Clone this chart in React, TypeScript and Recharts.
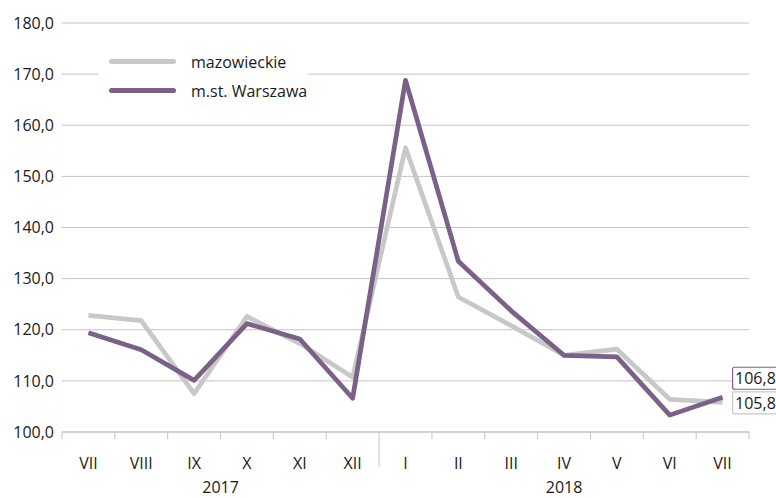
import { LineChart, Line, XAxis, YAxis, CartesianGrid, Legend, LabelList } from "recharts";

const months = ["VII", "VIII", "IX", "X", "XI", "XII", "I", "II", "III", "IV", "V", "VI", "VII"];
const yearGroups = [
  { label: "2017", first: 0, last: 5 },
  { label: "2018", first: 6, last: 12 },
];
const mazowieckie = [122.8, 121.8, 107.5, 122.6, 117.3, 110.7, 155.6, 126.4, 120.8, 115.0, 116.2, 106.4, 105.8];
const warszawa = [119.4, 116.1, 110.1, 121.2, 118.2, 106.6, 168.8, 133.4, 123.7, 115.0, 114.7, 103.3, 106.8];
const yTicks = [100, 110, 120, 130, 140, 150, 160, 170, 180];
const seriesOrder = ["mazowieckie", "m.st. Warszawa"];

// unique key per point, the duplicate "VII" would collapse in a point scale
const data = months.map((m, i) => ({ key: `${m}-${i}`, month: m, maz: mazowieckie[i], wwa: warszawa[i] }));

const W = 776;
const H = 498;
const MARGIN = { top: 23, right: 27, left: 0, bottom: 0 };
const Y_WIDTH = 62;
const BAND = (W - MARGIN.left - MARGIN.right - Y_WIDTH) / months.length;

const GRAY = "#c8c8c8";
const PURPLE = "#7b6088";
const GRID = "#c3c3c9";
const TEXT = "#1a1a1a";
const FONT = "'Open Sans', sans-serif";
const FS = 16;

const fmt = (v: number) => v.toFixed(1).replace(".", ",");

function MonthTick(props: any) {
  const { x, y, index } = props;
  const left = x - BAND / 2;
  const isSplit = yearGroups.some((g) => g.first === index && index > 0);
  const group = yearGroups.find((g) => g.first === index);
  return (
    <g>
      <line x1={left} x2={left} y1={y} y2={y + (isSplit ? 35 : 7)} stroke={GRID} />
      {index === months.length - 1 && (
        <line x1={x + BAND / 2} x2={x + BAND / 2} y1={y} y2={y + 7} stroke={GRID} />
      )}
      <text x={x} y={y + 37} textAnchor="middle" fontSize={FS} fill={TEXT} fontFamily={FONT}>
        {months[index]}
      </text>
      {group && (
        <text
          x={x + ((group.last - group.first) * BAND) / 2}
          y={y + 61}
          textAnchor="middle"
          fontSize={FS}
          fill={TEXT}
          fontFamily={FONT}
        >
          {group.label}
        </text>
      )}
    </g>
  );
}

function endLabel(color: string, dy: number) {
  return (props: any) => {
    const { x, y, value, index } = props;
    if (index !== months.length - 1) return null;
    return (
      <g>
        <rect x={x + 10} y={y + dy - 11} width={52} height={22} rx={2} fill="#fff" stroke={color} strokeWidth={1.2} />
        <text x={x + 12.5} y={y + dy + 6} fontSize={FS} fill={TEXT} fontFamily={FONT}>
          {fmt(value)}
        </text>
      </g>
    );
  };
}

function LegendBox(props: any) {
  const items = [...(props.payload || [])].sort(
    (a: any, b: any) => seriesOrder.indexOf(a.value) - seriesOrder.indexOf(b.value)
  );
  return (
    <div style={{ background: "#fff", width: 210, paddingTop: 1 }}>
      {items.map((p: any) => (
        <div key={p.value} style={{ display: "flex", alignItems: "center", height: 29, whiteSpace: "nowrap" }}>
          <div style={{ flex: "none", width: 67, height: 5, borderRadius: 3, background: p.color, marginLeft: 11 }} />
          <span style={{ marginLeft: 15, fontSize: FS, color: TEXT, fontFamily: FONT }}>{p.value}</span>
        </div>
      ))}
    </div>
  );
}

export default function App() {
  return (
    <div style={{ position: "absolute", left: 0, top: 0, width: W, height: H, background: "#fff", overflow: "hidden" }}>
      <LineChart width={W} height={H} data={data} margin={MARGIN}>
        <CartesianGrid horizontal vertical={false} stroke={GRID} />
        <XAxis
          dataKey="key"
          type="category"
          scale="point"
          padding={{ left: BAND / 2, right: BAND / 2 }}
          interval={0}
          height={66}
          tickLine={false}
          tickSize={0}
          tickMargin={0}
          axisLine={{ stroke: GRID }}
          tick={<MonthTick />}
        />
        <YAxis
          width={Y_WIDTH}
          type="number"
          domain={[100, 180]}
          ticks={yTicks}
          axisLine={false}
          tickLine={false}
          tickFormatter={fmt}
          tick={{ fontSize: FS, fill: TEXT, fontFamily: FONT }}
        />
        <Legend
          layout="vertical"
          align="center"
          verticalAlign="middle"
          content={<LegendBox />}
          wrapperStyle={{ position: "absolute", left: 98, top: 46, width: 210 }}
        />
        <Line
          dataKey="maz"
          name="mazowieckie"
          stroke={GRAY}
          strokeWidth={4.7}
          dot={false}
          strokeLinejoin="round"
          isAnimationActive={false}
        >
          <LabelList dataKey="maz" content={endLabel(GRAY, 0.5)} />
        </Line>
        <Line
          dataKey="wwa"
          name="m.st. Warszawa"
          stroke={PURPLE}
          strokeWidth={4.7}
          dot={false}
          strokeLinejoin="round"
          isAnimationActive={false}
        >
          <LabelList dataKey="wwa" content={endLabel(PURPLE, -19)} />
        </Line>
      </LineChart>
    </div>
  );
}
